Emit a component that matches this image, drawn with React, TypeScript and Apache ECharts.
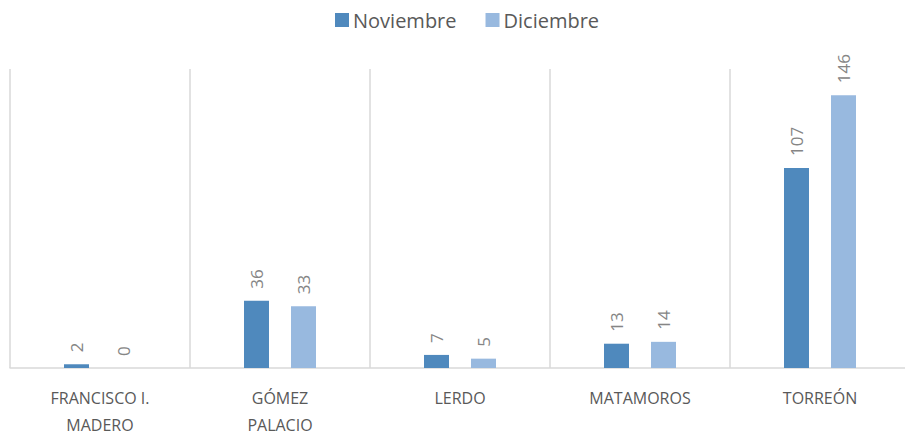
import React, { useEffect, useRef } from "react";
import * as echarts from "echarts";

const categories = ["FRANCISCO I.\nMADERO", "GÓMEZ\nPALACIO", "LERDO", "MATAMOROS", "TORREÓN"];
const noviembre = [2, 36, 7, 13, 107];
const diciembre = [0, 33, 5, 14, 146];
const seriesNames = ["Noviembre", "Diciembre"];
const colors = ["#4F89BD", "#98B9DF"];

export default function App() {
  const ref = useRef<HTMLDivElement>(null);
  useEffect(() => {
    if (!ref.current) return;
    const chart = echarts.init(ref.current, null, { renderer: "svg" });
    const font = "'Open Sans', 'Noto Sans', sans-serif";
    const label = {
      show: true,
      position: "top" as const,
      rotate: 90,
      align: "left" as const,
      verticalAlign: "middle" as const,
      distance: 12,
      color: "#858585",
      fontSize: 17,
      fontFamily: font,
    };
    chart.setOption({
      animation: false,
      color: colors,
      legend: {
        top: 5,
        left: 330,
        itemWidth: 14,
        itemHeight: 14,
        itemGap: 29,
        icon: "rect",
        textStyle: { color: "#595959", fontSize: 20, fontFamily: font, padding: [0, 0, 0, -1] },
        data: seriesNames,
      },
      grid: { left: 10, width: 900, top: 69, bottom: 66, containLabel: false, outerBoundsMode: "none" },
      xAxis: {
        type: "category",
        data: categories,
        axisLine: { lineStyle: { color: "#D9D9D9", width: 1.5 } },
        axisTick: { show: false },
        splitLine: { show: true, interval: 0, lineStyle: { color: "#D9D9D9", width: 1.5 } },
        axisLabel: {
          interval: 0,
          margin: 16,
          color: "#595959",
          fontSize: 16,
          lineHeight: 27,
          fontFamily: font,
        },
      },
      yAxis: {
        type: "value",
        min: 0,
        max: 160,
        show: false,
        splitLine: { show: false },
      },
      series: [
        { name: seriesNames[0], type: "bar", data: noviembre, barWidth: 25, barGap: "88%", label },
        { name: seriesNames[1], type: "bar", data: diciembre, barWidth: 25, barGap: "88%", label },
      ],
    });
    return () => chart.dispose();
  }, []);
  return (
    <div
      ref={ref}
      style={{ position: "fixed", left: 0, top: 0, width: 905, height: 434, background: "#fff" }}
    />
  );
}
